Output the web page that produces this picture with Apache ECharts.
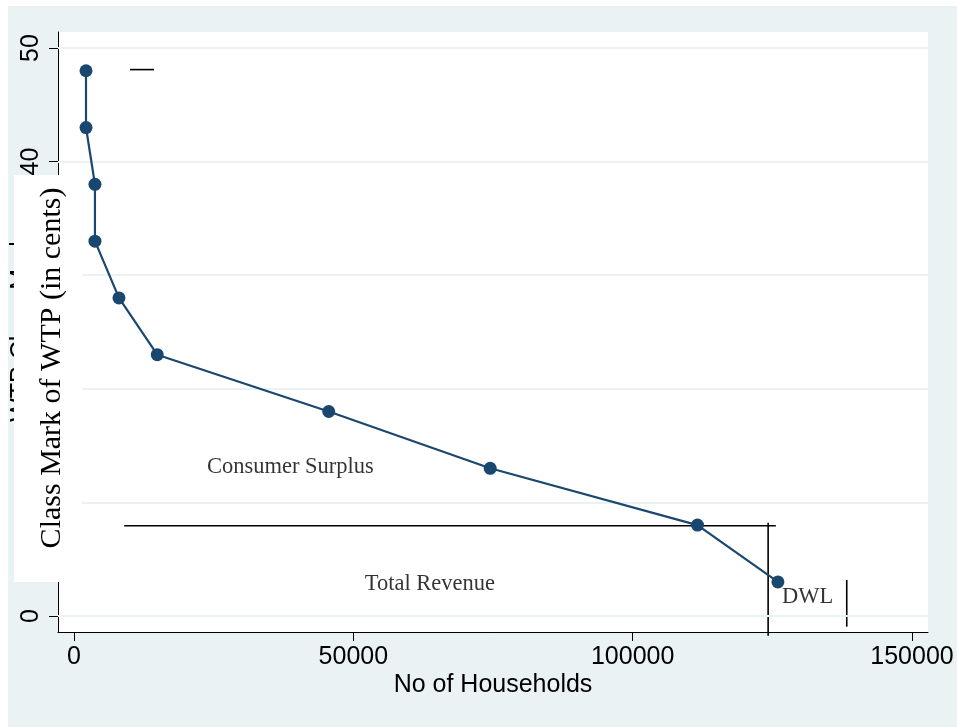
<!DOCTYPE html>
<html>
<head>
<meta charset="utf-8">
<script src="https://cdn.jsdelivr.net/npm/echarts@6.0.0/dist/echarts.min.js"></script>
<style>
html,body{margin:0;padding:0;background:#fff;}
#c{width:957px;height:727px;}
</style>
</head>
<body>
<div id="c"></div>
<script>
// ---- data ----
const households = [2150, 2150, 3750, 3750, 8050, 14900, 45600, 74500, 111600, 126000];
const wtpClassMark = [48, 43, 38, 33, 28, 23, 18, 13, 8, 3];
const xTicks = [0, 50000, 100000, 150000];
const yTicks = [0, 10, 20, 30, 40, 50];
const xRange = [-2864, 152866];
const yRange = [-1.41, 51.41];
// annotation segments (data coordinates)
const priceLine = [[8990, 7.95], [125630, 7.95]];
const quantityLine = [[124250, 8.21], [124250, -1.73]];
const dwlLine = [[138320, 3.17], [138320, -0.94]];
const stubLine = [[10020, 48.1], [14320, 48.1]];
// annotation texts (left edge, vertical centre in data coordinates)
const annoNames = ['Consumer Surplus', 'Total Revenue', 'DWL'];
const annoX = [23800, 52050, 126730];
const annoY = [13.1, 2.82, 1.67];

const BG = '#eaf2f3';
const NAVY = '#1a476f';
const SANS = 'Liberation Sans, Arial, sans-serif';
const SERIF = 'Liberation Serif, Times New Roman, serif';

const chart = echarts.init(document.getElementById('c'), null, {renderer: 'canvas'});

function seg(pts) {
  return {
    type: 'line', data: pts, symbol: 'none', clip: false, silent: true, z: 3,
    lineStyle: {color: '#000', width: 1.6}
  };
}

const option = {
  animation: false,
  backgroundColor: '#fff',
  grid: {left: 58, top: 32, right: 29, bottom: 95, show: true, backgroundColor: '#fff', borderWidth: 0},
  xAxis: {
    type: 'value', min: xRange[0], max: xRange[1],
    axisLine: {show: true, onZero: false, lineStyle: {color: '#000', width: 1}},
    axisTick: {show: true, customValues: xTicks, length: 9, lineStyle: {color: '#000'}},
    axisLabel: {show: true, customValues: xTicks, fontSize: 25, fontFamily: SANS, color: '#000', margin: 13,
      formatter: v => String(v)},
    splitLine: {show: false}
  },
  yAxis: {
    type: 'value', min: yRange[0], max: yRange[1],
    axisLine: {show: true, onZero: false, lineStyle: {color: '#000', width: 1}},
    axisTick: {show: true, customValues: yTicks, length: 9, lineStyle: {color: '#000'}},
    axisLabel: {show: true, customValues: yTicks, fontSize: 25, fontFamily: SANS, color: '#000', margin: 14, rotate: 90,
      formatter: v => String(v)},
    splitLine: {show: false}
  },
  graphic: [
    {type: 'rect', z: -10, shape: {x: 8, y: 6, width: 949, height: 721}, style: {fill: BG}},
    {type: 'text', z: 50, x: 9, y: 328, rotation: Math.PI / 2,
      style: {text: 'WTP Class Mark', font: '25px ' + SANS, fill: '#000', align: 'center', verticalAlign: 'top'}},
    {type: 'rect', z: 100, shape: {x: 14, y: 175, width: 68, height: 407}, style: {fill: '#fff'}},
    {type: 'text', z: 101, x: 52, y: 368, rotation: Math.PI / 2,
      style: {text: 'Class Mark of WTP (in cents)', font: '30px ' + SERIF, fill: '#000', align: 'center', verticalAlign: 'middle'}},
    {type: 'text', z: 101, x: 493, y: 685,
      style: {text: 'No of Households', font: '25px ' + SANS, fill: '#000', align: 'center', verticalAlign: 'middle'}}
  ],
  series: [
    {
      type: 'line', data: [], silent: true, z: 1,
      markLine: {
        silent: true, symbol: ['none', 'none'], label: {show: false},
        lineStyle: {color: BG, width: 2, type: 'solid'},
        data: yTicks.map(v => ({yAxis: v}))
      }
    },
    seg(priceLine), seg(quantityLine), seg(dwlLine), seg(stubLine),
    {
      type: 'line', z: 5,
      data: households.map((x, i) => [x, wtpClassMark[i]]),
      symbol: 'circle', symbolSize: 13,
      itemStyle: {color: NAVY},
      lineStyle: {color: NAVY, width: 2.2}
    },
    {
      type: 'scatter', z: 6, symbolSize: 0, silent: true,
      data: annoNames.map((n, i) => ({name: n, value: [annoX[i], annoY[i]]})),
      label: {show: true, position: 'right', distance: 0, formatter: '{b}',
        fontFamily: SERIF, fontSize: 22.5, color: '#000'}
    }
  ]
};
chart.setOption(option);
</script>
</body>
</html>
